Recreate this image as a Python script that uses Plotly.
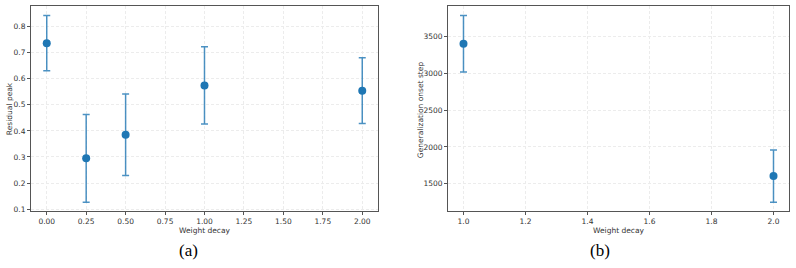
import plotly.graph_objects as go

# Panel (a)
wd_a = [0.0, 0.25, 0.5, 1.0, 2.0]
peak = [0.736, 0.295, 0.385, 0.574, 0.554]
peak_err = [0.106, 0.168, 0.156, 0.148, 0.126]

# Panel (b)
wd_b = [1.0, 2.0]
onset = [3405, 1602]
onset_err = [385, 356]

a_ticks = [0.0, 0.25, 0.5, 0.75, 1.0, 1.25, 1.5, 1.75, 2.0]
a_ticklabels = ["0.00", "0.25", "0.50", "0.75", "1.00", "1.25", "1.50", "1.75", "2.00"]
b_ticks = [1.0, 1.2, 1.4, 1.6, 1.8, 2.0]
b_ticklabels = ["1.0", "1.2", "1.4", "1.6", "1.8", "2.0"]

BLUE = "#1f77b4"
ERR = "rgba(31,119,180,0.8)"
TICKFONT = dict(family="DejaVu Sans", size=7.5, color="#333333")
TITLEFONT = dict(family="DejaVu Sans", size=7.5, color="#333333")

fig = go.Figure()
fig.add_trace(go.Scatter(
    x=wd_a, y=peak, mode="markers",
    marker=dict(color=BLUE, size=8),
    error_y=dict(type="data", array=peak_err, visible=True, color=ERR, thickness=1.5, width=3.5),
    xaxis="x", yaxis="y", showlegend=False))
fig.add_trace(go.Scatter(
    x=wd_b, y=onset, mode="markers",
    marker=dict(color=BLUE, size=8),
    error_y=dict(type="data", array=onset_err, visible=True, color=ERR, thickness=1.5, width=3.5),
    xaxis="x2", yaxis="y2", showlegend=False))

axis_common = dict(
    showline=True, mirror=True, linecolor="#555555", linewidth=1,
    ticks="outside", ticklen=3, tickcolor="#555555", tickwidth=0.8,
    showgrid=True, gridcolor="#ececec", griddash="3px,2px", gridwidth=0.8,
    zeroline=False, tickfont=TICKFONT,
)

fig.update_layout(
    width=796, height=268,
    margin=dict(l=0, r=0, t=0, b=0),
    paper_bgcolor="white", plot_bgcolor="white",
    xaxis=dict(domain=[0.0389, 0.4749], range=[-0.1, 2.1], tickvals=a_ticks, ticktext=a_ticklabels,
               title=dict(text="Weight decay", font=TITLEFONT, standoff=0), anchor="y", **axis_common),
    yaxis=dict(domain=[0.2052, 0.9776], range=[0.0915, 0.8785], dtick=0.1, tickformat=".1f",
               anchor="x", **axis_common),
    xaxis2=dict(domain=[0.5628, 0.9912], range=[0.95, 2.05], tickvals=b_ticks, ticktext=b_ticklabels,
                title=dict(text="Weight decay", font=TITLEFONT, standoff=0), anchor="y2", **axis_common),
    yaxis2=dict(domain=[0.2052, 0.9776], range=[1121, 3920], tickvals=[1500, 2000, 2500, 3000, 3500],
                anchor="x2", **axis_common),
    annotations=[
        dict(text="Residual peak", x=9 / 796, y=1 - 110 / 268, xref="paper", yref="paper", showarrow=False,
             textangle=-90, xanchor="center", yanchor="middle", font=TITLEFONT),
        dict(text="Generalization onset step", x=420 / 796, y=1 - 110 / 268, xref="paper", yref="paper",
             showarrow=False, textangle=-90, xanchor="center", yanchor="middle", font=TITLEFONT),
        dict(text="(a)", x=188 / 796, y=1 - 252 / 268, xref="paper", yref="paper", showarrow=False,
             xanchor="center", yanchor="middle",
             font=dict(family="Liberation Serif, Times New Roman, serif", size=17, color="black")),
        dict(text="(b)", x=600 / 796, y=1 - 252 / 268, xref="paper", yref="paper", showarrow=False,
             xanchor="center", yanchor="middle",
             font=dict(family="Liberation Serif, Times New Roman, serif", size=17, color="black")),
    ],
)

fig.write_html("out.html")
